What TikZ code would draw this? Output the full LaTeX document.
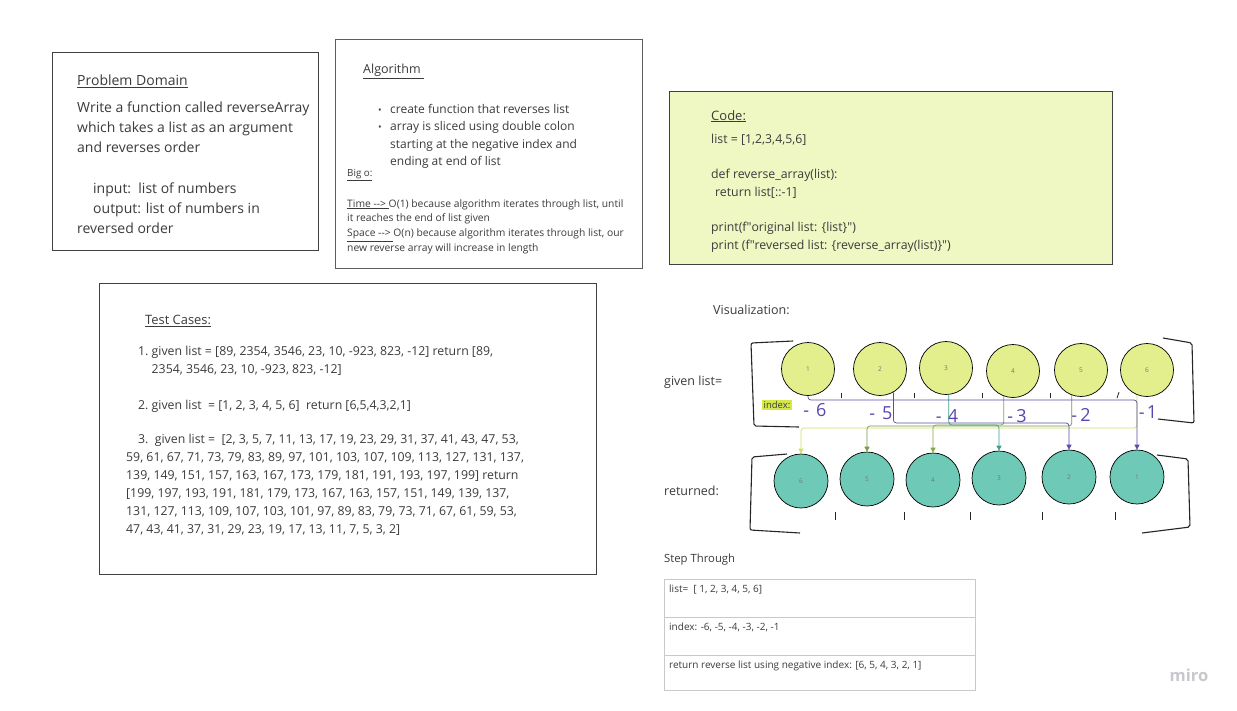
\documentclass[tikz,border=0pt]{standalone}
\usepackage{fontspec}
\setmainfont{Open Sans}
\usetikzlibrary{arrows.meta, calc}

\definecolor{ink}{HTML}{3B3B3B}
\definecolor{frame}{HTML}{404040}
\definecolor{codebg}{HTML}{EFF7C3}
\definecolor{ballyellow}{HTML}{E2EF8C}
\definecolor{ballteal}{HTML}{6ECAB6}
\definecolor{pen}{HTML}{5B45B0}
\definecolor{lnpurple}{HTML}{5A4DA6}
\definecolor{lnteal}{HTML}{3E9F8E}
\definecolor{lnolive}{HTML}{7C9B3A}
\definecolor{lnlime}{HTML}{CFE06B}
\definecolor{gridgrey}{HTML}{C9C9C9}
\definecolor{hilite}{HTML}{D4E84A}
\definecolor{logo}{HTML}{C8C8CC}

\tikzstyle{panel} = [draw=frame, line width=0.9pt]
\tikzstyle{txt} = [anchor=north west, inner sep=0pt, align=left, text=ink]
\tikzstyle{topball} = [circle, draw=black, line width=0.7pt, fill=ballyellow, minimum size=53pt, inner sep=0pt, font=\fontsize{6.5}{7}\selectfont, text=ink!70]
\tikzstyle{botball} = [circle, draw=black, line width=0.7pt, fill=ballteal, minimum size=54pt, inner sep=0pt, font=\fontsize{6.5}{7}\selectfont, text=ink!70]
\tikzstyle{link} = [line width=0.7pt, rounded corners=3pt, -{Triangle[length=5pt,width=5pt]}]
\tikzstyle{hand} = [text=pen, font=\fontsize{18}{18}\selectfont, inner sep=0pt]
\tikzstyle{bracket} = [line width=1.1pt, draw=black!85, rounded corners=2pt]
\tikzstyle{tick} = [line width=0.8pt, draw=black!85]

\newcommand{\bul}{\makebox[12pt][l]{\fontsize{9.5}{9}\selectfont\textbullet}}
\newcommand{\dq}{\textquotedbl}

\begin{document}
\begin{tikzpicture}[x=1pt, y=-1pt]

        \fill[white] (0,0) rectangle (1237,710);
        \useasboundingbox (0,0) rectangle (1237,710);

        % Problem domain
        \draw[panel] (52,52) rectangle (318,250);
        \node at (77,74.5) [txt, font=\fontsize{14}{20}\selectfont] (pdhead) {\underline{Problem Domain}};
        \node at (77,101.5) [txt, font=\fontsize{14}{20.2}\selectfont] (pdbody) {Write a function called reverseArray\\
            which takes a list as an argument\\
            and reverses order\\
            \mbox{}\\
            \hspace*{16pt}input:\ \ list of numbers\\
            \hspace*{16pt}output: list of numbers in\\
            reversed order};

        % Algorithm
        \draw[panel, draw=frame!85] (335,39) rectangle (642,268);
        \node at (363,64) [txt, font=\fontsize{12.5}{12}\selectfont] (alghead) {\underline{Algorithm\ }};
        \node at (378,104) [txt, font=\fontsize{12}{17.4}\selectfont] (algsteps) {\bul create function that reverses list\\
            \bul array is sliced using double colon\\
            \hspace*{12pt}starting at the negative index and\\
            \hspace*{12pt}ending at end of list};
        \node at (347,169) [txt, font=\fontsize{9.8}{10}\selectfont] (bigo) {\underline{Big o:}};
        \node at (347,199) [txt, font=\fontsize{10.3}{14.9}\selectfont] (cost) {\underline{Time -{}->\ }O(1) because algorithm iterates through list, until\\
            it reaches the end of list given\\
            \underline{Space -{}->\ }O(n) because algorithm iterates through list, our\\
            new reverse array will increase in length};

        % Code
        \draw[panel, fill=codebg] (669,91) rectangle (1112,264);
        \node at (711,110) [txt, font=\fontsize{13}{12}\selectfont] (codehead) {\underline{Code:}};
        \node at (711,134) [txt, font=\fontsize{12.3}{17.6}\selectfont] (codebody) {list = [1,2,3,4,5,6]\\
            \mbox{}\\
            def reverse\_array(list):\\
            \hspace*{4pt}return list[::-1]\\
            \mbox{}\\
            print(f\dq original list: \{list\}\dq)\\
            print (f\dq reversed list: \{reverse\_array(list)\}\dq)};

        % Test cases
        \draw[panel] (99,283) rectangle (596,574);
        \node at (145,315) [txt, font=\fontsize{12.9}{12}\selectfont] (testhead) {\underline{Test Cases:}};
        \node at (138,346) [txt, font=\fontsize{12.3}{17.5}\selectfont] (case1) {1.\ given list = [89, 2354, 3546, 23, 10, -923, 823, -12] return [89,\\
            \phantom{1.\ }2354, 3546, 23, 10, -923, 823, -12]};
        \node at (138,400) [txt, font=\fontsize{12.3}{17.5}\selectfont] (case2) {2.\ given list\ \ = [1, 2, 3, 4, 5, 6]\ \ return [6,5,4,3,2,1]};
        \node at (126,434) [txt, font=\fontsize{12.3}{18}\selectfont] (case3) {\hspace*{12pt}3.\ \ given list =\ \ [2, 3, 5, 7, 11, 13, 17, 19, 23, 29, 31, 37, 41, 43, 47, 53,\\
            59, 61, 67, 71, 73, 79, 83, 89, 97, 101, 103, 107, 109, 113, 127, 131, 137,\\
            139, 149, 151, 157, 163, 167, 173, 179, 181, 191, 193, 197, 199] return\\
            {}[199, 197, 193, 191, 181, 179, 173, 167, 163, 157, 151, 149, 139, 137,\\
            131, 127, 113, 109, 107, 103, 101, 97, 89, 83, 79, 73, 71, 67, 61, 59, 53,\\
            47, 43, 41, 37, 31, 29, 23, 19, 17, 13, 11, 7, 5, 3, 2]};

        % Visualization
        \node at (713,305) [txt, font=\fontsize{12.5}{12}\selectfont] (vishead) {Visualization:};
        \node at (664,376) [txt, font=\fontsize{12.5}{12}\selectfont] (givenlab) {given list=};
        \node at (664,486) [txt, font=\fontsize{12.5}{12}\selectfont] (retlab) {returned:};

        % given list
        \node at (808,369) [topball] (t1) {1};
        \node at (880,369) [topball] (t2) {2};
        \node at (946,368) [topball] (t3) {3};
        \node at (1013,371) [topball] (t4) {4};
        \node at (1081,370) [topball] (t5) {5};
        \node at (1147,370) [topball] (t6) {6};

        % returned list
        \node at (801,481) [botball] (b6) {6};
        \node at (867,479) [botball] (b5) {5};
        \node at (933,480) [botball] (b4) {4};
        \node at (999,478) [botball] (b3) {3};
        \node at (1069,477) [botball] (b2) {2};
        \node at (1137,477) [botball] (b1) {1};

        % brackets and commas
        \draw[bracket] (793,341) -- (751,343) -- (754,426) -- (799,427);
        \draw[bracket] (1163,338) -- (1192,343) -- (1194,423) -- (1158,419);
        \draw[bracket] (787,454) -- (752,457) -- (750,530) -- (800,533);
        \draw[bracket] (1157,455) -- (1188,459) -- (1190,527) -- (1142,533);
        \foreach \x in {841,914,982,1050}
            \draw[tick] (\x,393) -- (\x,398);
        \draw[tick] (1119,392) -- (1117,398);
        \foreach \x in {835,904,970,1042,1115}
            \draw[tick] (\x,512) -- (\x,520);

        % index labels
        \node at (777,405) [fill=hilite, text=ink, font=\fontsize{9.5}{10}\selectfont, inner sep=1.5pt] (idx) {index:};
        \node at (815,410) [hand] (n6) {-\hspace{7pt}6};
        \node at (881,413) [hand] (n5) {-\hspace{7pt}5};
        \node at (947,416) [hand] (n4) {-\hspace{6pt}4};
        \node at (1017,416) [hand] (n3) {-\hspace{3pt}3};
        \node at (1081,415) [hand] (n2) {-\hspace{3pt}2};
        \node at (1148,412) [hand] (n1) {-\hspace{2pt}1};

        % index moves
        \draw[link, draw=lnlime] (t6.-112) -- (t6.-112 |- 0,428) -| (b6.north);
        \draw[link, draw=lnolive] (t5.-110) -- (t5.-110 |- 0,426) -| (b5.north);
        \draw[link, draw=lnolive!85!lnlime] (t4.-110) -- (t4.-110 |- 0,425) -| (b4.north);
        \draw[link, draw=lnteal] (t3.-84) -- (t3.-84 |- 0,425) -| (b3.north);
        \draw[link, draw=lnpurple] (t2.-60) -- (t2.-60 |- 0,423) -| (b2.north);
        \draw[link, draw=lnpurple] (t1.south) -- (t1.south |- 0,400) -| (b1.north);

        % Step through
        \node at (664,554) [txt, font=\fontsize{11.3}{12}\selectfont] (stephead) {Step Through};
        \draw[draw=gridgrey, line width=0.9pt] (664,579) rectangle (975,690);
        \draw[draw=gridgrey, line width=0.9pt] (664,617) -- (975,617);
        \draw[draw=gridgrey, line width=0.9pt] (664,655) -- (975,655);
        \node at (669,585) [txt, font=\fontsize{10}{9}\selectfont] (row1) {list=\ \ [ 1, 2, 3, 4, 5, 6]};
        \node at (669,623) [txt, font=\fontsize{10}{9}\selectfont] (row2) {index: -6, -5, -4, -3, -2, -1};
        \node at (669,661) [txt, font=\fontsize{10}{9}\selectfont] (row3) {return reverse list using negative index: [6, 5, 4, 3, 2, 1]};

        % logo
        \node at (1189,675) [text=logo, font=\fontsize{16.5}{16}\bfseries\selectfont] (miro) {miro};

\end{tikzpicture}
\end{document}
